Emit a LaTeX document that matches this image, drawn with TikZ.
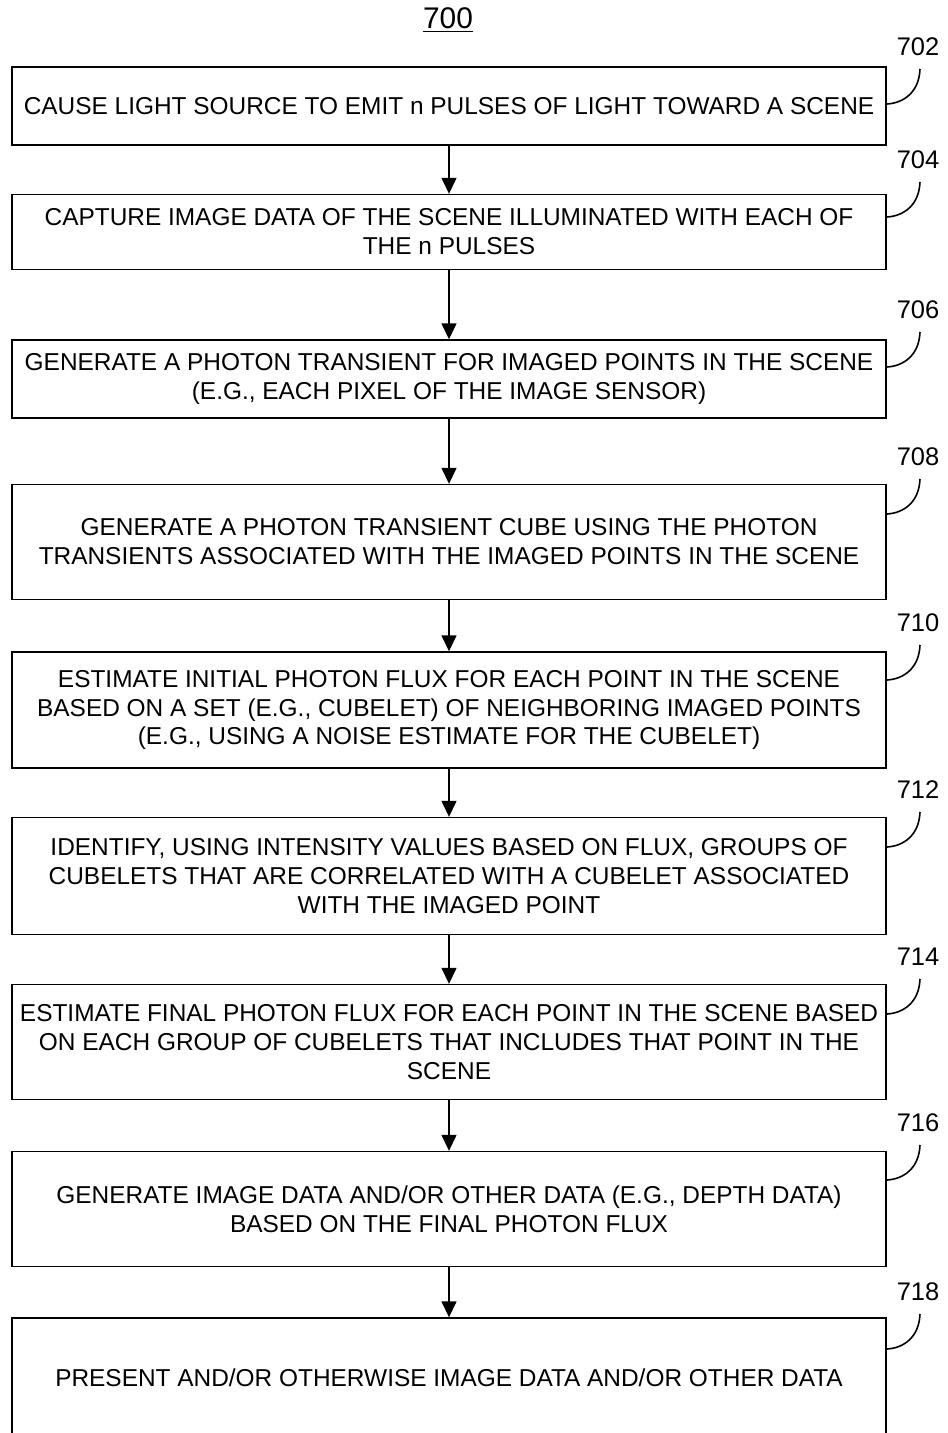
\documentclass[tikz,border=0pt]{standalone}
\usepackage{fontspec}
\setmainfont{Liberation Sans}
\usetikzlibrary{arrows.meta, calc}

\tikzset{
  stepbox/.style={draw, line width=0.8pt, minimum width=17.48cm, align=center,
    font=\fontsize{13.9}{16.5}\selectfont, inner sep=0pt},
  reflabel/.style={font=\fontsize{14.5}{16}\selectfont},
  hook/.style={line width=0.9pt}
}

\begin{document}
\begin{tikzpicture}[x=0.02cm, y=-0.02cm, >={Triangle[length=3.2mm, width=3mm]}, line width=0.8pt]
  \useasboundingbox (0,0) rectangle (947,1433);
  \node[font=\fontsize{17}{20}\selectfont] (title) at (448,20) {\underline{700}};

  % steps
  \node[stepbox, minimum height=1.56cm] (b702) at (449,106) {CAUSE LIGHT SOURCE TO EMIT n PULSES OF LIGHT TOWARD A SCENE};
  \node[stepbox, minimum height=1.5cm] (b704) at (449,232) {CAPTURE IMAGE DATA OF THE SCENE ILLUMINATED WITH EACH OF\\THE n PULSES};
  \node[stepbox, minimum height=1.56cm] (b706) at (449,379) {GENERATE A PHOTON TRANSIENT FOR IMAGED POINTS IN THE SCENE\\(E.G., EACH PIXEL OF THE IMAGE SENSOR)};
  \node[stepbox, minimum height=2.3cm] (b708) at (449,542) {GENERATE A PHOTON TRANSIENT CUBE USING THE PHOTON\\TRANSIENTS ASSOCIATED WITH THE IMAGED POINTS IN THE SCENE};
  \node[stepbox, minimum height=2.32cm] (b710) at (449,710) {ESTIMATE INITIAL PHOTON FLUX FOR EACH POINT IN THE SCENE\\BASED ON A SET (E.G., CUBELET) OF NEIGHBORING IMAGED POINTS\\(E.G., USING A NOISE ESTIMATE FOR THE CUBELET)};
  \node[stepbox, minimum height=2.34cm] (b712) at (449,876) {IDENTIFY, USING INTENSITY VALUES BASED ON FLUX, GROUPS OF\\CUBELETS THAT ARE CORRELATED WITH A CUBELET ASSOCIATED\\WITH THE IMAGED POINT};
  \node[stepbox, minimum height=2.3cm] (b714) at (449,1042) {ESTIMATE FINAL PHOTON FLUX FOR EACH POINT IN THE SCENE BASED\\ON EACH GROUP OF CUBELETS THAT INCLUDES THAT POINT IN THE\\SCENE};
  \node[stepbox, minimum height=2.3cm] (b716) at (449,1209) {GENERATE IMAGE DATA AND/OR OTHER DATA (E.G., DEPTH DATA)\\BASED ON THE FINAL PHOTON FLUX};
  % last box runs past the bottom edge
  \node[stepbox, minimum height=2.4cm] (b718) at (449,1378) {PRESENT AND/OR OTHERWISE IMAGE DATA AND/OR OTHER DATA};

  % flow arrows
  \draw[->] (b702) -- (b704);
  \draw[->] (b704) -- (b706);
  \draw[->] (b706) -- (b708);
  \draw[->] (b708) -- (b710);
  \draw[->] (b710) -- (b712);
  \draw[->] (b712) -- (b714);
  \draw[->] (b714) -- (b716);
  \draw[->] (b716) -- (b718);

  % reference numerals with hooks
  \foreach \num/\ly in {702/47, 704/160, 706/310, 708/457, 710/623, 712/790, 714/957, 716/1123, 718/1292} {
    \node[reflabel] (n\num) at (918,\ly) {\num};
    \draw[hook] ($(n\num)+(2,22)$) .. controls +(-1,24) and +(16,-1) .. ($(n\num)+(-31,57)$);
  }
\end{tikzpicture}
\end{document}
